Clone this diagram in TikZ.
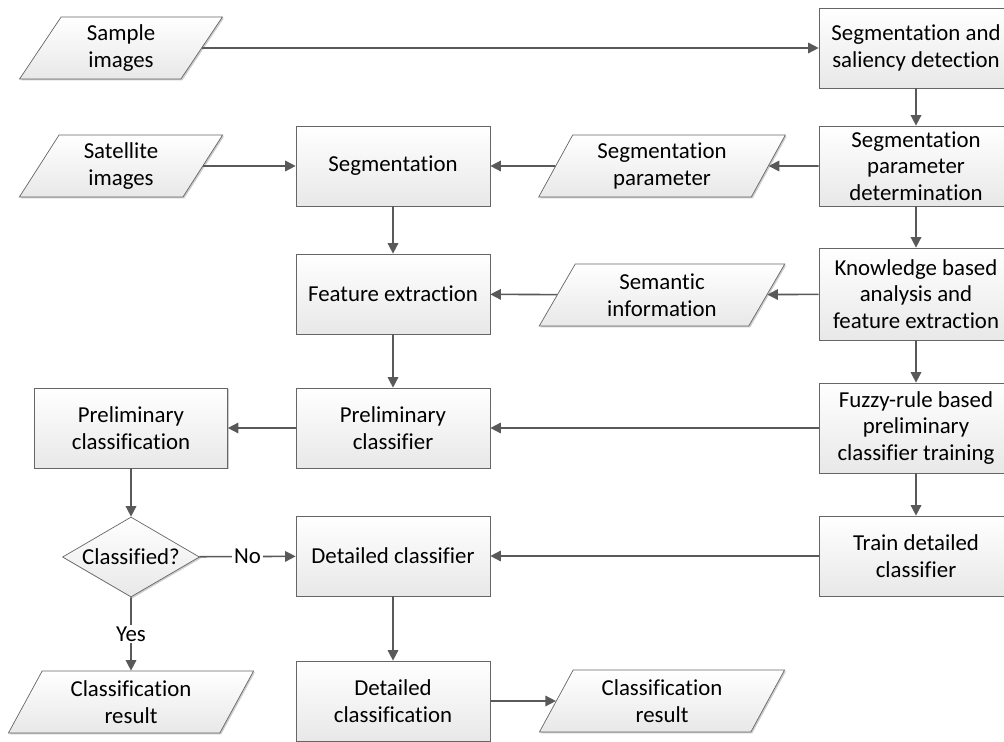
\documentclass[tikz,border=0pt]{standalone}
\usepackage{fontspec}
\setmainfont{Carlito}[Ligatures=NoCommon]
\usetikzlibrary{shapes.geometric, arrows.meta, shadows}

\begin{document}
\begin{tikzpicture}[x=0.02cm, y=-0.02cm,
  font=\fontsize{13}{15.2}\selectfont,
  base/.style={draw=black!60, top color=white, bottom color=black!9,
    drop shadow={shadow xshift=0.8pt, shadow yshift=-0.8pt, fill=black!40, opacity=0.5},
    align=center, inner sep=2pt, text=black},
  proc/.style={base, rectangle, minimum width=3.88cm, minimum height=1.6cm},
  io/.style={base, trapezium, trapezium left angle=64, trapezium right angle=116,
    trapezium stretches=true, minimum width=4.94cm, minimum height=1.24cm},
  iosmall/.style={io, minimum width=4.08cm},
  decide/.style={base, diamond, aspect=1.7, minimum width=2.74cm, minimum height=1.6cm, inner sep=0pt},
  arr/.style={-{Triangle[length=6pt, width=6pt]}, draw=black!65, line width=0.9pt}]
  \useasboundingbox (0,0) rectangle (1004,742);

  % right column: training chain
  \node[proc] (saliency) at (916,48) {Segmentation and\\saliency detection};
  \node[proc] (segdet) at (916,166) {Segmentation\\parameter\\determination};
  \node[proc, minimum height=1.84cm] (knowledge) at (916,294) {Knowledge based\\analysis and\\feature extraction};
  \node[proc, minimum height=1.8cm] (fuzzy) at (916,428) {Fuzzy-rule based\\preliminary\\classifier training};
  \node[proc] (train) at (916,556) {Train detailed\\classifier};

  % inputs and transferred knowledge
  \node[iosmall] (sample) at (121,48) {Sample\\images};
  \node[iosmall] (satellite) at (121,166) {Satellite\\images};
  \node[io] (segparam) at (662,166) {Segmentation\\parameter};
  \node[io] (semantic) at (662,295) {Semantic\\information};

  % middle column: classification chain
  \node[proc] (seg) at (393,166) {Segmentation};
  \node[proc] (feat) at (393,294) {Feature extraction};
  \node[proc] (prelim) at (393,428) {Preliminary\\classifier};
  \node[proc] (detail) at (393,556) {Detailed classifier};
  \node[proc] (detailres) at (393,701) {Detailed\\classification};
  \node[io] (result2) at (662,701) {Classification\\result};

  % left column: decision
  \node[proc, minimum width=3.86cm] (prelimres) at (131,428) {Preliminary\\classification};
  \node[decide] (check) at (131,557) {Classified?};
  \node[io] (result) at (131,702) {Classification\\result};

  % connectors
  \draw[arr] (sample) -- (saliency);
  \draw[arr] (saliency) -- (segdet);
  \draw[arr] (segdet) -- (knowledge);
  \draw[arr] (knowledge) -- (fuzzy);
  \draw[arr] (fuzzy) -- (train);
  \draw[arr] (segdet) -- (segparam);
  \draw[arr] (segparam) -- (seg);
  \draw[arr] (satellite) -- (seg);
  \draw[arr] (seg) -- (feat);
  \draw[arr] (knowledge) -- (semantic);
  \draw[arr] (semantic) -- (feat);
  \draw[arr] (feat) -- (prelim);
  \draw[arr] (fuzzy) -- (prelim);
  \draw[arr] (prelim) -- (prelimres);
  \draw[arr] (prelimres) -- (check);
  \draw[arr] (check) -- node[fill=white, inner sep=1pt] {No} (detail);
  \draw[arr] (check) -- node[fill=white, inner sep=1pt] {Yes} (result);
  \draw[arr] (train) -- (detail);
  \draw[arr] (detail) -- (detailres);
  \draw[arr] (detailres) -- (result2);
\end{tikzpicture}
\end{document}
